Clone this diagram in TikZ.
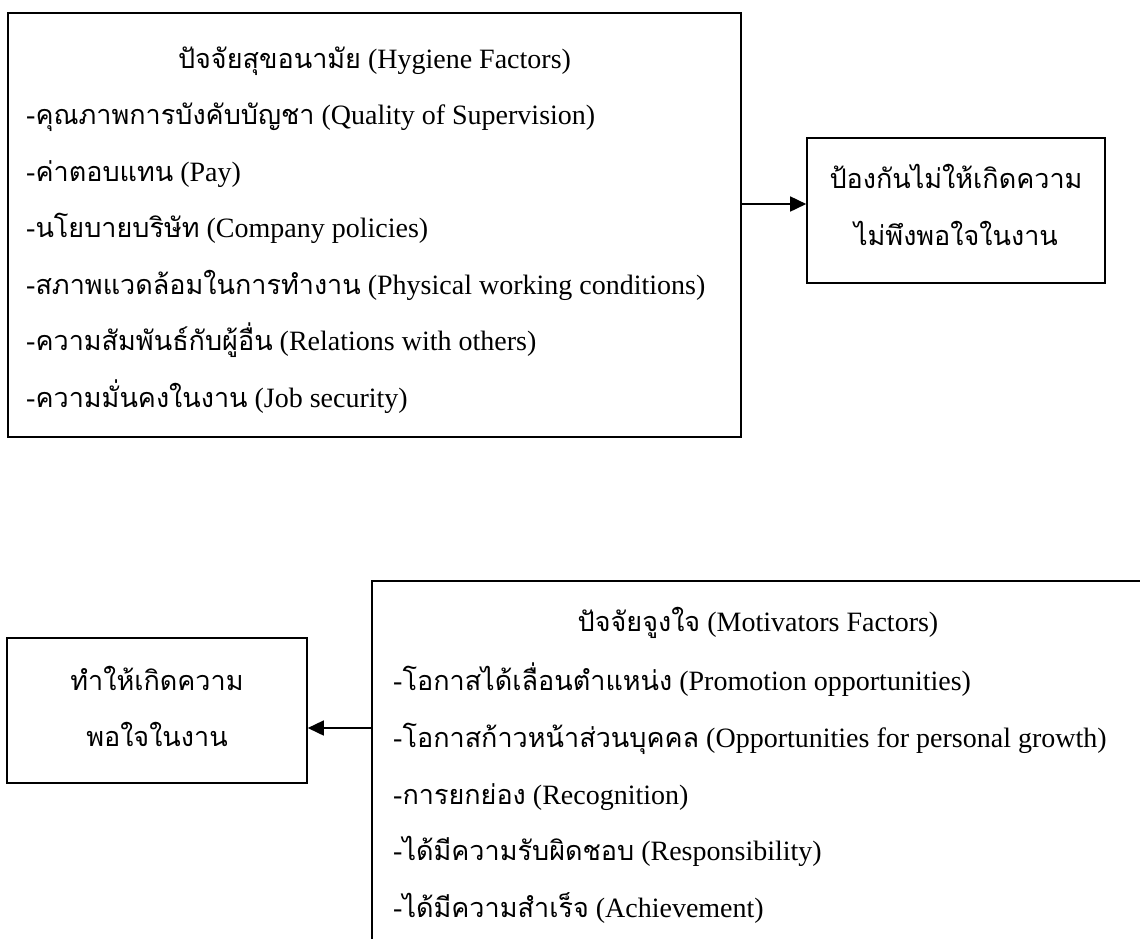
\documentclass[tikz,border=0pt]{standalone}
\usepackage{fontspec}
\setmainfont{Liberation Serif}
\newfontfamily\thaifont[Script=Thai]{Loma}
\newcommand\tht[1]{{\thaifont\fontsize{27}{32}\selectfont #1}}
\usetikzlibrary{arrows.meta}
\begin{document}
\begin{tikzpicture}[x=1pt,y=-1pt,
  box/.style={draw, line width=1.6pt, inner sep=0pt, fill=none},
  itm/.style={anchor=base west, inner sep=0pt, font=\fontsize{28}{34}\selectfont},
  ctr/.style={anchor=base, inner sep=0pt, font=\fontsize{28}{34}\selectfont},
  arr/.style={line width=1.6pt, -{Triangle[length=16pt,width=15pt]}}]
\path[use as bounding box, clip] (0,0) rectangle (1140,938);
\fill[white] (0,0) rectangle (1140,938);
% boxes
\node[box, minimum width=733pt, minimum height=424pt] (hyg) at (374.5,225) {};
\node[box, minimum width=298pt, minimum height=145pt] (prev) at (956,210.5) {};
\node[box, minimum width=300pt, minimum height=145pt] (sat) at (157,710.5) {};
\node[box, minimum width=772pt, minimum height=409pt] (mot) at (758,785.5) {};
% arrows
\coordinate (a1) at (0,204);
\coordinate (a2) at (0,728);
\draw[arr] (hyg.east |- a1) -- (prev.west |- a1);
\draw[arr] (mot.west |- a2) -- (sat.east |- a2);
% hygiene text
\node[ctr] (h0) at (374.5,68) {\tht{ปัจจัยสุขอนามัย} (Hygiene Factors)};
\node[itm] (h1) at (26,124.5) {-\tht{คุณภาพการบังคับบัญชา} (Quality of Supervision)};
\node[itm] (h2) at (26,181) {-\tht{ค่าตอบแทน} (Pay)};
\node[itm] (h3) at (26,237.5) {-\tht{นโยบายบริษัท} (Company policies)};
\node[itm] (h4) at (26,294) {-\tht{สภาพแวดล้อมในการทำงาน} (Physical working conditions)};
\node[itm] (h5) at (26,350.5) {-\tht{ความสัมพันธ์กับผู้อื่น} (Relations with others)};
\node[itm] (h6) at (26,407) {-\tht{ความมั่นคงในงาน} (Job security)};
% prevent text
\node[ctr] (p1) at (956,188) {\tht{ป้องกันไม่ให้เกิดความ}};
\node[ctr] (p2) at (956,245) {\tht{ไม่พึงพอใจในงาน}};
% satisfaction text
\node[ctr] (s1) at (157,690) {\tht{ทำให้เกิดความ}};
\node[ctr] (s2) at (157,746) {\tht{พอใจในงาน}};
% motivators text
\node[ctr] (m0) at (758,631) {\tht{ปัจจัยจูงใจ} (Motivators Factors)};
\node[itm] (m1) at (393,690) {-\tht{โอกาสได้เลื่อนตำแหน่ง} (Promotion opportunities)};
\node[itm] (m2) at (393,747) {-\tht{โอกาสก้าวหน้าส่วนบุคคล} (Opportunities for personal growth)};
\node[itm] (m3) at (393,804) {-\tht{การยกย่อง} (Recognition)};
\node[itm] (m4) at (393,860) {-\tht{ได้มีความรับผิดชอบ} (Responsibility)};
\node[itm] (m5) at (393,917) {-\tht{ได้มีความสำเร็จ} (Achievement)};
\end{tikzpicture}
\end{document}
